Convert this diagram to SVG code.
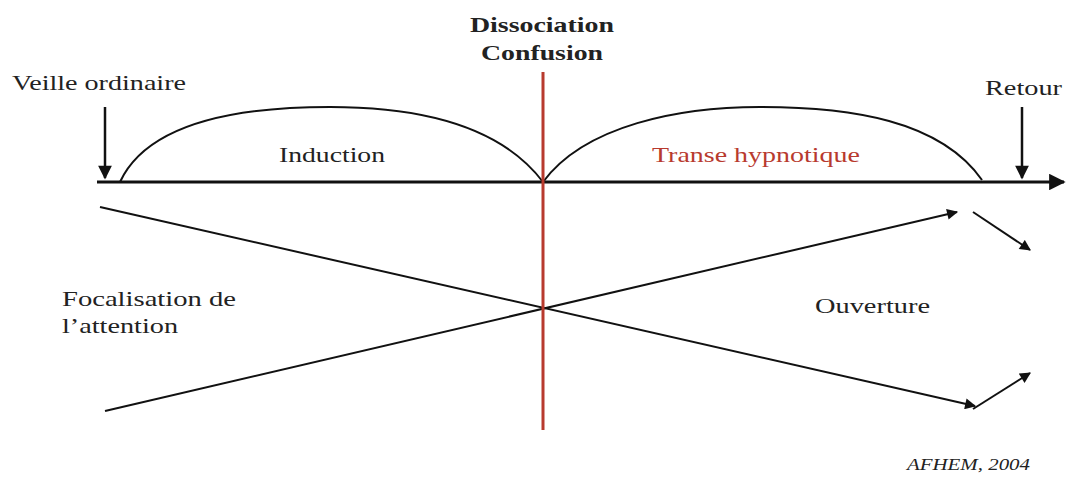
<svg xmlns="http://www.w3.org/2000/svg" width="1067" height="482" viewBox="0 0 1067 482">
<defs>
<marker id="ah" viewBox="0 0 10 10" refX="9" refY="5" markerWidth="6" markerHeight="5.5" orient="auto" markerUnits="strokeWidth">
<path d="M0,0 L10,5 L0,10 z" fill="#111"/>
</marker>
<style>
.t{font-family:"Liberation Serif","Times New Roman",serif;font-size:22px;fill:#222}
.b{font-weight:bold;font-size:21px}
.ln{stroke:#111;stroke-width:2;fill:none}
</style>
</defs>
<rect width="1067" height="482" fill="#fff"/>
<g id="connectors">
<line class="ln" x1="97" y1="182" x2="1064" y2="182" style="stroke-width:3" marker-end="url(#ah)"/>
<path class="ln" d="M120,182 C150,118 250,107 330,107 C420,107 500,125 543,182"/>
<path class="ln" d="M543,182 C585,125 680,107 760,107 C850,107 940,120 982,180"/>
<line class="ln" x1="105" y1="107" x2="105" y2="178" style="stroke-width:2.5" marker-end="url(#ah)"/>
<line class="ln" x1="1022" y1="107" x2="1022" y2="178" style="stroke-width:2.5" marker-end="url(#ah)"/>
<line class="ln" x1="100" y1="207" x2="975" y2="406" marker-end="url(#ah)"/>
<line class="ln" x1="105" y1="411" x2="957" y2="212" marker-end="url(#ah)"/>
<line class="ln" x1="973" y1="212" x2="1030" y2="250" marker-end="url(#ah)"/>
<line class="ln" x1="973" y1="409" x2="1030" y2="373" marker-end="url(#ah)"/>
<line x1="543" y1="72" x2="543" y2="430" stroke="#b83a2e" stroke-width="3"/>
</g>
<g id="dissociation"><text class="t b" x="470" y="32" textLength="144" lengthAdjust="spacingAndGlyphs">Dissociation</text><text class="t b" x="481" y="60" textLength="122" lengthAdjust="spacingAndGlyphs">Confusion</text></g>
<g id="veille"><text class="t" x="12" y="90" textLength="174" lengthAdjust="spacingAndGlyphs">Veille ordinaire</text></g>
<g id="retour"><text class="t" x="985" y="95" textLength="77" lengthAdjust="spacingAndGlyphs">Retour</text></g>
<g id="induction"><text class="t" x="279" y="162" textLength="106" lengthAdjust="spacingAndGlyphs">Induction</text></g>
<g id="transe"><text class="t" x="652" y="162" textLength="208" lengthAdjust="spacingAndGlyphs" style="fill:#b83a2e">Transe hypnotique</text></g>
<g id="focalisation"><text class="t" x="62" y="306" textLength="174" lengthAdjust="spacingAndGlyphs">Focalisation de</text><text class="t" x="62" y="333" textLength="116" lengthAdjust="spacingAndGlyphs">l’attention</text></g>
<g id="ouverture"><text class="t" x="815" y="313" textLength="115" lengthAdjust="spacingAndGlyphs">Ouverture</text></g>
<g id="source"><text class="t" x="907" y="470" textLength="123" lengthAdjust="spacingAndGlyphs" style="font-style:italic;font-size:17px">AFHEM, 2004</text></g>
</svg>
